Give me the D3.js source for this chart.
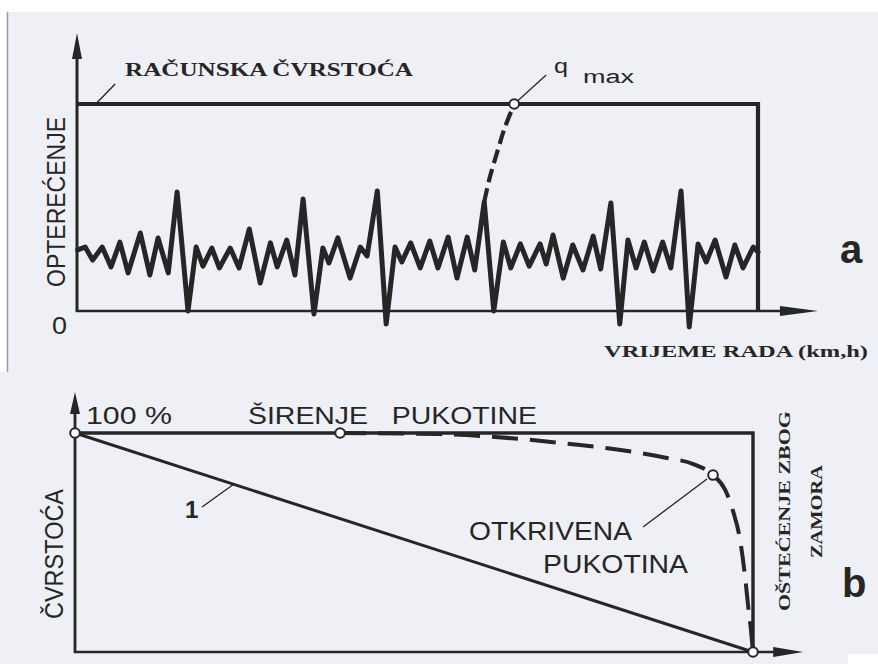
<!DOCTYPE html>
<html><head><meta charset="utf-8">
<script src="https://cdn.jsdelivr.net/npm/d3@7"></script>
<style>html,body{margin:0;padding:0;background:#eef0f5;}svg{display:block;}text{white-space:pre;}</style>
</head><body>
<svg id="c" width="878" height="664"></svg>
<script>
// ---------- DATA ----------
// Panel a: load history (time units 0..100, load units: design strength = 100)
const waveT = [0.1,1.2,2.3,3.7,5.0,6.3,7.5,9.3,10.7,11.9,13.4,14.7,16.3,17.5,18.5,19.8,20.9,22.5,23.8,25.3,26.9,28.4,29.4,30.8,32.0,33.2,34.8,36.1,37.0,38.3,40.1,41.6,42.6,44.1,45.4,46.7,47.7,49.0,50.4,51.8,53.0,54.5,55.8,57.3,58.4,59.8,61.2,62.6,63.7,65.1,66.4,68.0,68.9,69.9,71.4,72.8,74.3,75.8,76.9,78.4,79.7,80.9,82.1,83.3,84.6,86.0,87.2,88.7,89.9,91.2,92.4,93.7,95.3,96.6,97.8,99.3,100];
const waveL = [29.5,30.9,24.6,30.9,21.3,33.3,18.4,37.7,17.4,35.3,18.4,57.5,0,30.9,21.7,30.4,20.8,30.4,20.8,39.6,13.5,32.9,21.3,34.3,17.4,54.1,-1.4,30.4,23.2,35.3,15.9,30.9,26.6,58.0,-6.3,30.9,23.7,32.9,20.8,33.8,20.8,35.7,15.9,35.7,19.8,52.7,0,33.3,20.8,32.4,21.7,32.4,22.7,36.7,15.9,31.9,19.8,36.2,20.3,52.2,-6.3,34.3,20.8,33.3,19.3,33.3,20.8,58.0,-7.7,32.4,23.7,34.3,16.4,31.9,20.8,30.9,28.5];
const designStrength = 100;          // RAČUNSKA ČVRSTOĆA level
const strengthEnd = 100;             // time where the strength line ends
const qT = [59.8,60.6,61.8,62.8,64.2];   // dashed overload branch
const qL = [52.7,64.3,77.8,88.4,100];
const qMax = [64.2,100];
// Panel b: strength (%) vs time
const line1T = [0,100];
const line1S = [100,0];
const crackT = [39.1,53.8,65.6,73.0,79.4,87.3,91.2,94.1,95.9,97.1,98.1,98.8,99.3,99.7,100];
const crackS = [100,99.5,97.3,95.0,92.7,88.6,85.8,80.8,74.0,63.9,51.1,35.2,20.5,10.0,0];
const markersB = [[0,100],[39.1,100],[94.1,80.8],[100,0]];
const labels = {
  a:"a", b:"b",
  strength:"RAČUNSKA ČVRSTOĆA", yA:"OPTEREĆENJE", zero:"0", q:"q", max:"max",
  xA:"VRIJEME RADA (km,h)",
  p100:"100 %", spread:"ŠIRENJE   PUKOTINE", one:"1", yB:"ČVRSTOĆA",
  found1:"OTKRIVENA", found2:"PUKOTINA", dmg1:"OŠTEĆENJE ZBOG", dmg2:"ZAMORA"
};

// ---------- DRAW ----------
const svg = d3.select("#c");
const ink = "#262626";
svg.append("rect").attr("width",878).attr("height",664).attr("fill","#eef0f5");
svg.append("rect").attr("width",878).attr("height",12).attr("fill","#ffffff");
svg.append("rect").attr("x",0).attr("y",12).attr("width",7).attr("height",360).attr("fill","#ffffff");
svg.append("line").attr("x1",7.5).attr("x2",7.5).attr("y1",12).attr("y2",372).attr("stroke","#9a9a9a").attr("stroke-width",1.5);
svg.append("rect").attr("x",848).attr("y",654).attr("width",30).attr("height",10).attr("fill","#ffffff");

const xT = d3.scaleLinear([0,100],[77,758]);
const yT = d3.scaleLinear([0,100],[311,104]);
const xB = d3.scaleLinear([0,100],[75,753]);
const yB = d3.scaleLinear([0,100],[652,433]);

function arrowUp(x, yTip, w, h){
  svg.append("path").attr("d",`M${x},${yTip} L${x-w/2},${yTip+h} L${x+w/2},${yTip+h} Z`).attr("fill",ink);
}
function arrowRight(xTip, y, w, h){
  svg.append("path").attr("d",`M${xTip},${y} L${xTip-w},${y-h/2} L${xTip-w},${y+h/2} Z`).attr("fill",ink);
}

// ----- panel a -----
const ga = svg.append("g");
ga.append("line").attr("x1",xT(0)).attr("x2",xT(0)).attr("y1",yT(0)+1).attr("y2",yT(125)).attr("stroke",ink).attr("stroke-width",3);
arrowUp(xT(0), yT(134.3), 10, 26);
ga.append("line").attr("x1",xT(0)-1).attr("x2",xT(104)).attr("y1",yT(0)).attr("y2",yT(0)).attr("stroke",ink).attr("stroke-width",2.6);
arrowRight(xT(108.8), yT(0), 38, 10);
ga.append("path").attr("d",d3.line()([[xT(0),yT(designStrength)],[xT(strengthEnd),yT(designStrength)],[xT(strengthEnd),yT(0)]]))
  .attr("fill","none").attr("stroke",ink).attr("stroke-width",4.2).attr("stroke-linejoin","miter");
const wave = waveT.map((t,i)=>[t,waveL[i]]);
ga.append("path").attr("d",d3.line().x(d=>xT(d[0])).y(d=>yT(d[1]))(wave))
  .attr("fill","none").attr("stroke",ink).attr("stroke-width",5).attr("stroke-linejoin","round").attr("stroke-linecap","round");
const qpts = qT.map((t,i)=>[t,qL[i]]);
ga.append("path").attr("d",d3.line().x(d=>xT(d[0])).y(d=>yT(d[1])).curve(d3.curveCatmullRom)(qpts))
  .attr("fill","none").attr("stroke",ink).attr("stroke-width",4.2).attr("stroke-dasharray","14,6");
ga.append("line").attr("x1",xT(qMax[0])).attr("y1",yT(qMax[1])).attr("x2",xT(qMax[0])+32).attr("y2",yT(qMax[1])-29).attr("stroke",ink).attr("stroke-width",1.3);
ga.append("circle").attr("cx",xT(qMax[0])).attr("cy",yT(qMax[1])).attr("r",4.8).attr("fill","#fff").attr("stroke",ink).attr("stroke-width",2);
ga.append("line").attr("x1",xT(2.6)).attr("y1",yT(designStrength)+1).attr("x2",xT(5.6)).attr("y2",yT(designStrength)-20).attr("stroke",ink).attr("stroke-width",1.4);

const serif = "'Liberation Serif','Times New Roman',serif";
const sans = "'Liberation Sans',Arial,sans-serif";
function txt(s, x, y, size, family, weight, len, rot){
  const t = svg.append("text").text(s).attr("font-family",family).attr("font-size",size)
    .attr("font-weight",weight||"normal").attr("fill",ink);
  if (rot){ t.attr("transform",`translate(${x},${y}) rotate(-90)`); }
  else { t.attr("x",x).attr("y",y); }
  if (len){ t.attr("textLength",len).attr("lengthAdjust","spacingAndGlyphs"); }
  return t;
}
txt(labels.strength, 125, 76, 18, serif, "bold", 288);
txt(labels.yA, 65, 287, 25, sans, "normal", 170, true);
txt(labels.zero, 52, 334, 23, sans, "normal", 15);
txt(labels.q, 554, 73, 21, sans, "normal", 14);
txt(labels.max, 583, 83, 18, sans, "normal", 51);
txt(labels.a, 840, 263, 40, sans, "bold");
txt(labels.xA, 604, 357, 16, serif, "bold", 264);

// ----- panel b -----
const gb = svg.append("g");
gb.append("line").attr("x1",xB(0)).attr("x2",xB(0)).attr("y1",yB(0)+1).attr("y2",yB(112)).attr("stroke",ink).attr("stroke-width",2.8);
arrowUp(xB(0), yB(118.7), 10, 22);
gb.append("line").attr("x1",xB(0)-1).attr("x2",xB(104)).attr("y1",yB(0)).attr("y2",yB(0)).attr("stroke",ink).attr("stroke-width",2.6);
arrowRight(xB(107.4), yB(0), 30, 10);
gb.append("path").attr("d",d3.line()([[xB(0),yB(100)],[xB(100),yB(100)],[xB(100),yB(0)]]))
  .attr("fill","none").attr("stroke",ink).attr("stroke-width",3.4);
gb.append("path").attr("d",d3.line().x((d,i)=>xB(line1T[i])).y((d,i)=>yB(line1S[i]))(line1T))
  .attr("fill","none").attr("stroke",ink).attr("stroke-width",3);
const cpts = crackT.map((t,i)=>[t,crackS[i]]);
gb.append("path").attr("d",d3.line().x(d=>xB(d[0])).y(d=>yB(d[1])).curve(d3.curveMonotoneX)(cpts))
  .attr("fill","none").attr("stroke",ink).attr("stroke-width",4).attr("stroke-dasharray","26,12");
gb.append("line").attr("x1",xB(94.1)-6).attr("y1",yB(80.8)+4).attr("x2",643).attr("y2",527).attr("stroke",ink).attr("stroke-width",1.3);
gb.append("line").attr("x1",202).attr("y1",507).attr("x2",xB(23.4)).attr("y2",yB(76.6)).attr("stroke",ink).attr("stroke-width",1.3);
markersB.forEach(m=>{
  gb.append("circle").attr("cx",xB(m[0])).attr("cy",yB(m[1])).attr("r",4.8).attr("fill","#fff").attr("stroke",ink).attr("stroke-width",2);
});
txt(labels.p100, 86, 424, 24, sans, "normal", 86);
txt(labels.spread, 248, 424, 24, sans, "normal", 289);
txt(labels.one, 185, 518, 24, sans, "bold");
txt(labels.yB, 63, 619, 26, sans, "normal", 130, true);
txt(labels.found1, 469, 540, 26, sans, "normal", 163);
txt(labels.found2, 543, 573, 26, sans, "normal", 145);
txt(labels.dmg1, 790, 611, 17, serif, "bold", 200, true);
txt(labels.dmg2, 822, 558, 17, serif, "bold", 93, true);
txt(labels.b, 842, 597, 40, sans, "bold");
</script>
</body></html>
